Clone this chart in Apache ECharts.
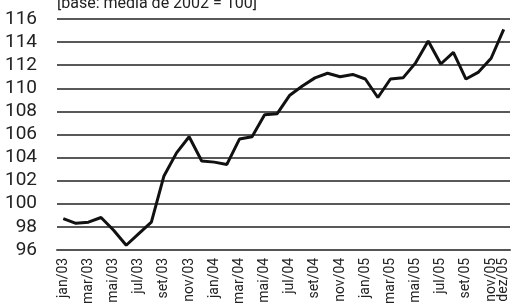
<!DOCTYPE html>
<html lang="pt">
<head>
    <meta charset="UTF-8">
    <title>Índice</title>
    <script src="https://cdn.jsdelivr.net/npm/echarts@6/dist/echarts.min.js"></script>
    <style>
        html, body { margin: 0; padding: 0; background: #fff; }
    </style>
</head>
<body>
    <div id="main" style="width: 512px;height:307px;"></div>
    <script type="text/javascript">
        var months = ['jan/03', 'fev/03', 'mar/03', 'abr/03', 'mai/03', 'jun/03', 'jul/03', 'ago/03', 'set/03', 'out/03', 'nov/03', 'dez/03',
            'jan/04', 'fev/04', 'mar/04', 'abr/04', 'mai/04', 'jun/04', 'jul/04', 'ago/04', 'set/04', 'out/04', 'nov/04', 'dez/04',
            'jan/05', 'fev/05', 'mar/05', 'abr/05', 'mai/05', 'jun/05', 'jul/05', 'ago/05', 'set/05', 'out/05', 'nov/05', 'dez/05'];
        var indexValues = [98.7, 98.3, 98.4, 98.8, 97.7, 96.4, 97.4, 98.4, 102.4, 104.4, 105.8, 103.7,
            103.6, 103.4, 105.6, 105.8, 107.7, 107.8, 109.4, 110.2, 110.9, 111.3, 111.0, 111.2,
            110.8, 109.2, 110.8, 110.9, 112.2, 114.1, 112.1, 113.1, 110.8, 111.4, 112.6, 115.1];
        var yTicks = [96, 116, 2];

        var font = 'Roboto, "Liberation Sans", sans-serif';
        var last = months.length - 1;
        var myChart = echarts.init(document.getElementById('main'));

        var labelStyle = {
            rotate: 90,
            margin: 8,
            color: '#222',
            fontFamily: font,
            fontSize: 14
        };

        var option = {
            animation: false,
            title: {
                text: '[base: média de 2002 = 100]',
                left: 57,
                top: -4,
                padding: 0,
                textStyle: { fontFamily: font, fontSize: 16, fontWeight: 'normal', color: '#222' }
            },
            grid: { left: 57, right: 2, top: 19, bottom: 51 },
            xAxis: [{
                type: 'category',
                data: months,
                position: 'bottom',
                boundaryGap: true,
                axisLine: { lineStyle: { color: '#555', width: 2 } },
                axisTick: { inside: true, length: 4, interval: 0, lineStyle: { color: '#333', width: 1 } },
                axisLabel: Object.assign({
                    interval: function (i) { return i % 2 === 0 && i !== last; }
                }, labelStyle)
            }, {
                // second axis only to show the final month next to nov/05
                type: 'category',
                data: months,
                position: 'bottom',
                offset: 0,
                boundaryGap: true,
                axisLine: { show: false },
                axisTick: { show: false },
                splitLine: { show: false },
                axisLabel: Object.assign({
                    interval: function (i) { return i === last; }
                }, labelStyle)
            }],
            yAxis: {
                type: 'value',
                min: yTicks[0],
                max: yTicks[1],
                interval: yTicks[2],
                axisLine: { show: false },
                axisTick: { show: false },
                axisLabel: { color: '#222', fontFamily: font, fontSize: 19, margin: 20 },
                splitLine: { lineStyle: { color: '#222', width: 1.5 } }
            },
            series: [{
                type: 'line',
                data: indexValues,
                symbol: 'none',
                lineStyle: { color: '#111', width: 3 }
            }]
        };
        myChart.setOption(option);
    </script>
</body>
</html>
